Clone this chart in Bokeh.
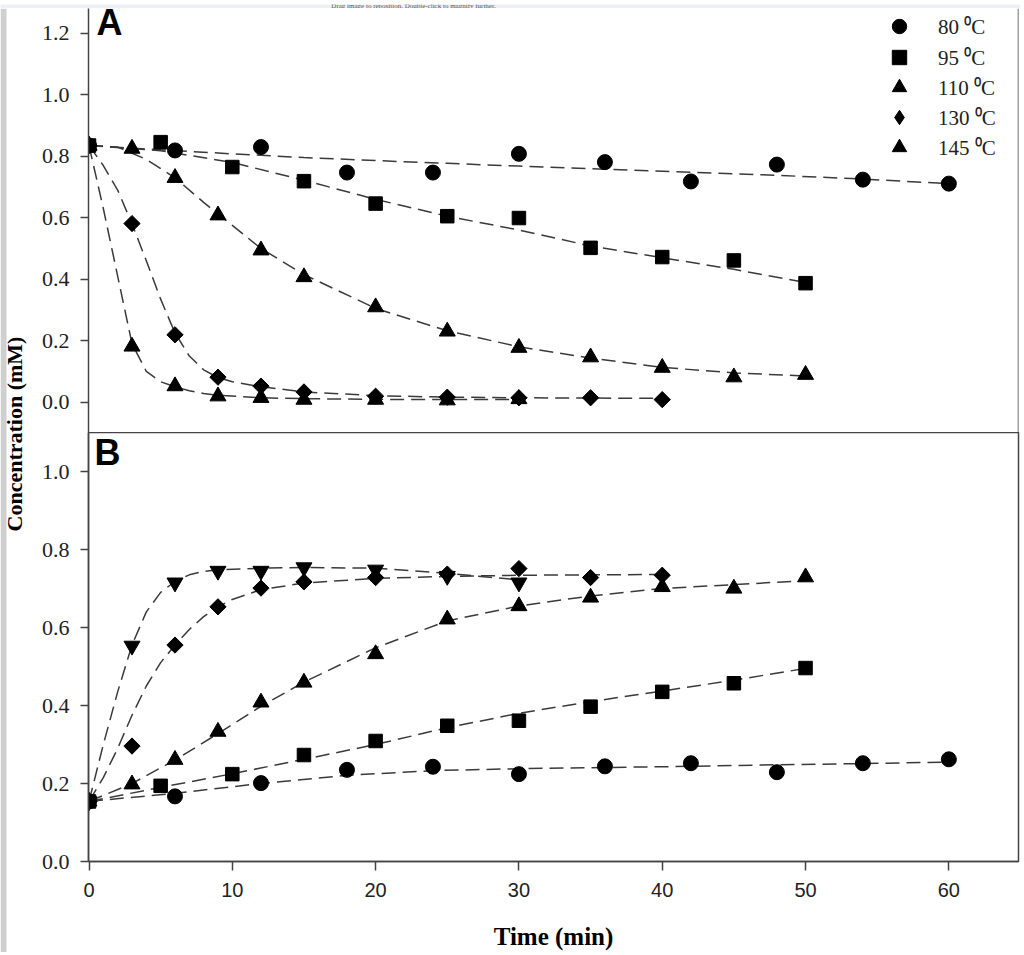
import math
from bokeh.plotting import figure
from bokeh.models import (Range1d, FixedTicker, PrintfTickFormatter, Span, Label,
                          Legend, LegendItem, BoxAnnotation)
from bokeh.layouts import row, column
from bokeh.embed import file_html
from bokeh.resources import INLINE

# ---------------- data ----------------
series_labels = ["80 \u2070C", "95 \u2070C", "110 \u2070C", "130 \u2070C", "145 \u2070C"]

# Panel A : measured points
tA80 = [0, 6, 12, 18, 24, 30, 36, 42, 48, 54, 60]
cA80 = [0.835, 0.819, 0.830, 0.747, 0.747, 0.808, 0.781, 0.718, 0.773, 0.724, 0.711]
tA95 = [0, 5, 10, 15, 20, 25, 30, 35, 40, 45, 50]
cA95 = [0.835, 0.846, 0.765, 0.719, 0.646, 0.605, 0.599, 0.502, 0.472, 0.461, 0.387]
tA110 = [0, 3, 6, 9, 12, 15, 20, 25, 30, 35, 40, 45, 50]
cA110 = [0.835, 0.825, 0.730, 0.608, 0.494, 0.407, 0.309, 0.230, 0.177, 0.146, 0.112, 0.081, 0.089]
tA130 = [0, 3, 6, 9, 12, 15, 20, 25, 30, 35, 40]
cA130 = [0.835, 0.581, 0.219, 0.081, 0.052, 0.033, 0.019, 0.016, 0.014, 0.014, 0.008]
tA145 = [0, 3, 6, 9, 12, 15, 20, 25, 30]
cA145 = [0.835, 0.181, 0.052, 0.019, 0.014, 0.008, 0.008, 0.006, 0.010]

# Panel A : fitted (dashed) curves, read at points along each curve
ftA80 = [0, 5, 10, 15, 20, 25, 30, 36, 42, 48, 54, 60]
fcA80 = [0.835, 0.821, 0.808, 0.796, 0.786, 0.777, 0.768, 0.758, 0.748, 0.738, 0.726, 0.711]
ftA95 = [0, 5, 10, 15, 20, 25, 30, 35, 40, 45, 50]
fcA95 = [0.835, 0.818, 0.780, 0.722, 0.660, 0.605, 0.560, 0.508, 0.470, 0.432, 0.389]
ftA110 = [0, 2, 4, 6, 8, 10, 12, 15, 20, 25, 30, 35, 40, 45, 50]
fcA110 = [0.835, 0.830, 0.790, 0.730, 0.650, 0.575, 0.500, 0.415, 0.305, 0.232, 0.180, 0.143, 0.113, 0.095, 0.085]
ftA130 = [0, 1, 2, 3, 4, 5, 6, 7, 8, 9, 10, 12, 15, 20, 25, 30, 35, 40]
fcA130 = [0.835, 0.770, 0.690, 0.580, 0.460, 0.335, 0.225, 0.150, 0.105, 0.080, 0.066, 0.050, 0.033, 0.021, 0.016, 0.014, 0.013, 0.012]
ftA145 = [0, 1, 2, 3, 4, 5, 6, 7, 8, 9, 12, 15, 20, 25, 30]
fcA145 = [0.835, 0.630, 0.410, 0.190, 0.100, 0.066, 0.050, 0.037, 0.028, 0.022, 0.014, 0.011, 0.009, 0.008, 0.008]

# Panel B : measured points
tB80 = [0, 6, 12, 18, 24, 30, 36, 42, 48, 54, 60]
cB80 = [0.154, 0.167, 0.201, 0.235, 0.243, 0.224, 0.244, 0.252, 0.229, 0.252, 0.262]
tB95 = [0, 5, 10, 15, 20, 25, 30, 35, 40, 45, 50]
cB95 = [0.154, 0.194, 0.224, 0.273, 0.309, 0.348, 0.361, 0.397, 0.435, 0.457, 0.496]
tB110 = [0, 3, 6, 9, 12, 15, 20, 25, 30, 35, 40, 45, 50]
cB110 = [0.154, 0.198, 0.261, 0.333, 0.408, 0.459, 0.532, 0.621, 0.655, 0.677, 0.704, 0.700, 0.729]
tB130 = [0, 3, 6, 9, 12, 15, 20, 25, 30, 35, 40]
cB130 = [0.154, 0.296, 0.555, 0.653, 0.701, 0.717, 0.728, 0.737, 0.751, 0.728, 0.734]
tB145 = [0, 3, 6, 9, 12, 15, 20, 25, 30]
cB145 = [0.154, 0.553, 0.715, 0.745, 0.745, 0.754, 0.748, 0.732, 0.715]

# Panel B : fitted (dashed) curves
ftB80 = [0, 6, 12, 18, 24, 30, 36, 42, 48, 54, 60]
fcB80 = [0.154, 0.175, 0.200, 0.221, 0.233, 0.238, 0.241, 0.244, 0.248, 0.251, 0.255]
ftB95 = [0, 5, 10, 15, 20, 25, 30, 35, 40, 45, 50]
fcB95 = [0.154, 0.190, 0.225, 0.262, 0.300, 0.343, 0.380, 0.410, 0.437, 0.465, 0.495]
ftB110 = [0, 3, 6, 9, 12, 15, 20, 25, 30, 35, 40, 45, 50]
fcB110 = [0.154, 0.200, 0.260, 0.328, 0.398, 0.460, 0.548, 0.617, 0.655, 0.681, 0.700, 0.710, 0.720]
ftB130 = [0, 1, 2, 3, 4, 5, 6, 7, 8, 9, 10, 12, 15, 20, 25, 30, 35, 40]
fcB130 = [0.154, 0.215, 0.290, 0.375, 0.450, 0.510, 0.555, 0.595, 0.628, 0.653, 0.672, 0.697, 0.714, 0.726, 0.731, 0.734, 0.735, 0.736]
ftB145 = [0, 1, 2, 3, 4, 5, 6, 7, 8, 9, 12, 15, 20, 25, 30]
fcB145 = [0.154, 0.300, 0.435, 0.555, 0.640, 0.690, 0.718, 0.735, 0.744, 0.748, 0.752, 0.754, 0.752, 0.739, 0.722]

x_ticks = [0, 10, 20, 30, 40, 50, 60]
yA_ticks = [0.0, 0.2, 0.4, 0.6, 0.8, 1.0, 1.2]
yB_ticks = [0.0, 0.2, 0.4, 0.6, 0.8, 1.0]

# ---------------- styling ----------------
LEFT, RIGHT, FRAME_W = 56, 2, 930
LINE_COL = "#3a3a3a"
AX_COL = "#444444"
DASH = "14 7"
SERIF = "Liberation Serif"
SANS = "Liberation Sans"
X_END = 64.86

x_range = Range1d(-0.035, X_END)


def bare(p):
    p.xgrid.visible = False
    p.ygrid.visible = False


def style_y(axis, ticks):
    axis.ticker = FixedTicker(ticks=ticks)
    axis.formatter = PrintfTickFormatter(format="%.1f")
    axis.axis_line_width = 1.5
    axis.axis_line_color = AX_COL
    axis.major_tick_line_color = AX_COL
    axis.major_tick_line_width = 1.5
    axis.major_tick_out = 8
    axis.major_tick_in = 0
    axis.minor_tick_line_color = None
    axis.major_label_text_font = SERIF
    axis.major_label_text_font_size = "22px"
    axis.major_label_text_color = "#222222"
    axis.major_label_standoff = 11


def markers(p, ts, cs, kind, size, angle=0.0):
    return p.scatter(ts, cs, marker=kind, size=size, angle=angle,
                     fill_color="black", line_color="black")


# ---------------- viewer banner strip on top ----------------
pT = figure(width=1020, height=8, x_range=Range1d(0, 1020), y_range=Range1d(0, 8),
            output_backend="svg", toolbar_location=None,
            x_axis_location=None, y_axis_location=None, min_border=0,
            background_fill_color="#eceff3", border_fill_color="#eceff3")
bare(pT)
pT.outline_line_color = None
pT.add_layout(Label(x=413, y=6.6, text="Drag image to reposition. Double-click to magnify further.",
                    text_font=SERIF, text_font_size="7px",
                    text_align="center", text_baseline="middle", text_color="#555555"))

# ---------------- panel A ----------------
pA = figure(width=LEFT + FRAME_W + RIGHT, height=424, x_range=x_range,
            y_range=Range1d(-0.099, 1.281), output_backend="svg",
            toolbar_location=None, x_axis_location=None,
            min_border_left=LEFT, min_border_right=RIGHT,
            min_border_top=0, min_border_bottom=0)
bare(pA)
pA.outline_line_color = None
style_y(pA.yaxis[0], yA_ticks)
pA.add_layout(Span(location=X_END, dimension="height", line_color=AX_COL, line_width=1.5))

for ft, fc in [(ftA80, fcA80), (ftA95, fcA95), (ftA110, fcA110), (ftA130, fcA130), (ftA145, fcA145)]:
    pA.line(ft, fc, line_color=LINE_COL, line_width=1.5, line_dash=DASH)

rA = [
    markers(pA, tA80, cA80, "circle", 15),
    markers(pA, tA95, cA95, "square", 13.5),
    markers(pA, tA110, cA110, "triangle", 16),
    markers(pA, tA130, cA130, "square", 11.5, math.pi / 4),
    markers(pA, tA145, cA145, "triangle", 16),
]
# the legend draws markers unrotated, so the 130 entry uses a diamond-shaped stand-in
r_leg130 = pA.scatter([math.nan], [math.nan], marker="diamond", fill_color="black", line_color="black")
leg_renderers = [rA[0], rA[1], rA[2], r_leg130, rA[4]]

# one legend box per entry so the row pitch can be set independently of marker size
leg_bottoms = [388, 357.5, 327, 297, 267.5]
for lab, rend, vy in zip(series_labels, leg_renderers, leg_bottoms):
    pA.add_layout(Legend(items=[LegendItem(label=lab, renderers=[rend])],
                         location=(793, vy), orientation="vertical",
                         label_text_font=SERIF, label_text_font_size="21px",
                         label_text_color="#222222",
                         glyph_width=36, glyph_height=36, label_height=20,
                         label_standoff=21, spacing=0, padding=0, margin=0,
                         border_line_color=None, background_fill_alpha=0))

pA.add_layout(Label(x=0.52, y=1.236, text="A", text_font=SANS,
                    text_font_style="bold", text_font_size="36px",
                    text_align="left", text_baseline="alphabetic", text_color="black"))

# ---------------- panel B ----------------
pB = figure(width=LEFT + FRAME_W + RIGHT, height=520, x_range=x_range,
            y_range=Range1d(0.0, 1.1), output_backend="svg",
            toolbar_location=None,
            min_border_left=LEFT, min_border_right=RIGHT,
            min_border_top=0, min_border_bottom=90)
bare(pB)
pB.outline_line_color = AX_COL
pB.outline_line_width = 1.5
style_y(pB.yaxis[0], yB_ticks)

xa = pB.xaxis[0]
xa.ticker = FixedTicker(ticks=x_ticks)
xa.axis_line_width = 1.5
xa.axis_line_color = AX_COL
xa.major_tick_line_color = AX_COL
xa.major_tick_line_width = 1.5
xa.major_tick_out = 9
xa.major_tick_in = 0
xa.minor_tick_line_color = None
xa.major_label_text_font = SANS
xa.major_label_text_font_size = "20px"
xa.major_label_text_color = "#222222"
xa.major_label_standoff = 12
xa.axis_label = "Time (min)"
xa.axis_label_text_font = SERIF
xa.axis_label_text_font_style = "bold"
xa.axis_label_text_font_size = "25px"
xa.axis_label_text_color = "black"
xa.axis_label_standoff = 23

for ft, fc in [(ftB80, fcB80), (ftB95, fcB95), (ftB110, fcB110), (ftB130, fcB130), (ftB145, fcB145)]:
    pB.line(ft, fc, line_color=LINE_COL, line_width=1.5, line_dash=DASH)

markers(pB, tB80, cB80, "circle", 15)
markers(pB, tB95, cB95, "square", 13.5)
markers(pB, tB110, cB110, "triangle", 16)
markers(pB, tB130, cB130, "square", 11.5, math.pi / 4)
markers(pB, tB145, cB145, "inverted_triangle", 16)

pB.add_layout(Label(x=0.38, y=1.049, text="B", text_font=SANS,
                    text_font_style="bold", text_font_size="36px",
                    text_align="left", text_baseline="alphabetic", text_color="black"))

# ---------------- shared y label (with the viewer's grey edge strip) ----------------
H_PLOTS = 424 + 520
pL = figure(width=32, height=H_PLOTS, x_range=Range1d(0, 32), y_range=Range1d(0, H_PLOTS),
            output_backend="svg", toolbar_location=None,
            x_axis_location=None, y_axis_location=None, min_border=0)
bare(pL)
pL.outline_line_color = None
pL.add_layout(BoxAnnotation(left=0, right=6, fill_color="#cfcfcf", fill_alpha=1.0,
                            line_alpha=0))
pL.add_layout(Label(x=14, y=H_PLOTS - (433.5 - 8), text="Concentration (mM)", angle=math.pi / 2,
                    text_font=SERIF, text_font_style="bold", text_font_size="22px",
                    text_align="center", text_baseline="alphabetic", text_color="black"))

layout = column(pT, row(pL, column(pA, pB)))
open("out.html", "w").write(file_html(layout, INLINE))
